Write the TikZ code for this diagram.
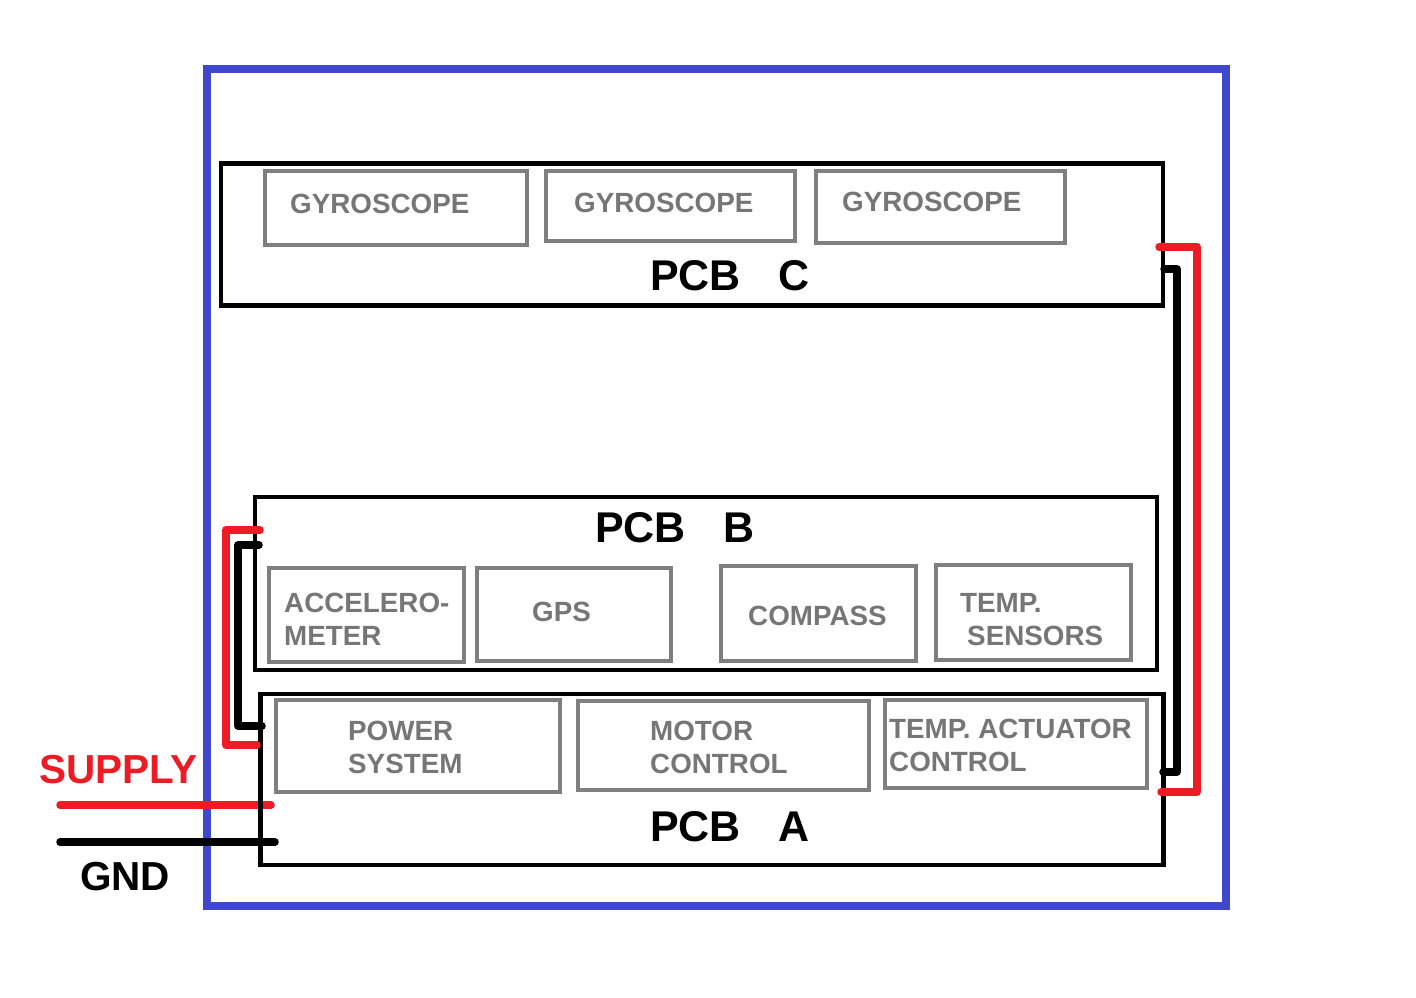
\documentclass[tikz,border=0pt]{standalone}
\usepackage{fontspec}
\setmainfont{Liberation Sans}
\definecolor{frameblue}{HTML}{3F48CC}
\definecolor{wirered}{HTML}{ED1C24}
\definecolor{boxgray}{HTML}{7F7F7F}
\definecolor{txtgray}{HTML}{767676}
\tikzset{
  pcb/.style={draw=black, line width=4.5pt, rectangle, inner sep=0pt, outer sep=0pt},
  part/.style={draw=boxgray, line width=4pt, rectangle, inner sep=0pt, outer sep=0pt},
  ptext/.style={anchor=base west, inner sep=0pt, text=txtgray, font=\fontsize{27.8}{33}\selectfont\bfseries},
  pcblabel/.style={anchor=base west, inner sep=0pt, text=black, font=\fontsize{43}{50}\selectfont\bfseries},
  sig/.style={anchor=base west, inner sep=0pt, font=\fontsize{40.5}{46}\selectfont\bfseries},
  redwire/.style={draw=wirered, line width=7.5pt, line join=round, line cap=round},
  blackwire/.style={draw=black, line width=7.5pt, line join=round, line cap=round}
}
\begin{document}
\begin{tikzpicture}[x=1pt,y=-1pt]
\useasboundingbox (0,0) rectangle (1416,998);
% outer frame
\draw[frameblue, line width=8pt] (207,69) rectangle (1226,906);

% supply / ground lines
\coordinate (supL) at (60,805);
\coordinate (supR) at (271,805);
\coordinate (gndL) at (60,842);
\coordinate (gndR) at (275,842);
\draw[redwire] (supL) -- (supR);
\draw[blackwire] (gndL) -- (gndR);

% PCBs
\node[pcb, minimum width=942pt, minimum height=142pt] (pcbC) at (692,234.5) {};
\node[pcb, minimum width=902pt, minimum height=173pt] (pcbB) at (706,583.5) {};
\node[pcb, minimum width=903pt, minimum height=171pt] (pcbA) at (712,779.5) {};

% parts on PCB C
\node[part, minimum width=262pt, minimum height=74pt] (g1) at (396,208) {};
\node[part, minimum width=249pt, minimum height=70pt] (g2) at (670.5,206) {};
\node[part, minimum width=249pt, minimum height=72pt] (g3) at (940.5,207) {};
\node[ptext] (g1t) at (290,213) {GYROSCOPE};
\node[ptext] (g2t) at (574,212) {GYROSCOPE};
\node[ptext] (g3t) at (842,211) {GYROSCOPE};

% parts on PCB B
\node[part, minimum width=195pt, minimum height=94pt] (acc) at (366.5,615) {};
\node[part, minimum width=194pt, minimum height=93pt] (gps) at (574,614.5) {};
\node[part, minimum width=195pt, minimum height=95pt] (cmp) at (818.5,613.5) {};
\node[part, minimum width=195pt, minimum height=95pt] (tsn) at (1033.5,612.5) {};
\node[ptext] (acct1) at (284,612) {ACCELERO-};
\node[ptext] (acct2) at (284,645) {METER};
\node[ptext] (gpst) at (532,621) {GPS};
\node[ptext] (cmpt) at (748,625) {COMPASS};
\node[ptext] (tsnt1) at (960,612) {TEMP.};
\node[ptext] (tsnt2) at (967,645) {SENSORS};

% parts on PCB A
\node[part, minimum width=284pt, minimum height=92pt] (pwr) at (418,746) {};
\node[part, minimum width=291pt, minimum height=89pt] (mot) at (723.5,745.5) {};
\node[part, minimum width=262pt, minimum height=88pt] (tac) at (1016,744) {};
\node[ptext] (pwrt1) at (348,740) {POWER};
\node[ptext] (pwrt2) at (348,773) {SYSTEM};
\node[ptext] (mott1) at (650,740) {MOTOR};
\node[ptext] (mott2) at (650,773) {CONTROL};
\node[ptext] (tact1) at (889,738) {TEMP. ACTUATOR};
\node[ptext] (tact2) at (889,771) {CONTROL};

% PCB labels
\node[pcblabel] (lC) at (650,290) {PCB\hspace{38pt}C};
\node[pcblabel] (lB) at (595,542) {PCB\hspace{38pt}B};
\node[pcblabel] (lA) at (650,841) {PCB\hspace{38pt}A};

% signal labels
\node[sig, text=wirered] (supply) at (39,783) {SUPPLY};
\node[sig, text=black] (gnd) at (80,890) {GND};

% left wiring between PCB B and PCB A
\coordinate (lr1) at (260,530);
\coordinate (lr2) at (226,530);
\coordinate (lr3) at (226,745);
\coordinate (lr4) at (257,745);
\coordinate (lb1) at (259,545);
\coordinate (lb2) at (238,545);
\coordinate (lb3) at (238,726);
\coordinate (lb4) at (262,726);
\draw[redwire] (lr1) -- (lr2) -- (lr3) -- (lr4);
\draw[blackwire] (lb1) -- (lb2) -- (lb3) -- (lb4);

% right wiring between PCB C and PCB A
\coordinate (rr1) at (1159,247);
\coordinate (rr2) at (1197,247);
\coordinate (rr3) at (1197,792);
\coordinate (rr4) at (1161,792);
\coordinate (rb1) at (1164,269);
\coordinate (rb2) at (1177,269);
\coordinate (rb3) at (1177,772);
\coordinate (rb4) at (1163,772);
\draw[redwire] (rr1) -- (rr2) -- (rr3) -- (rr4);
\draw[blackwire] (rb1) -- (rb2) -- (rb3) -- (rb4);
\end{tikzpicture}
\end{document}
